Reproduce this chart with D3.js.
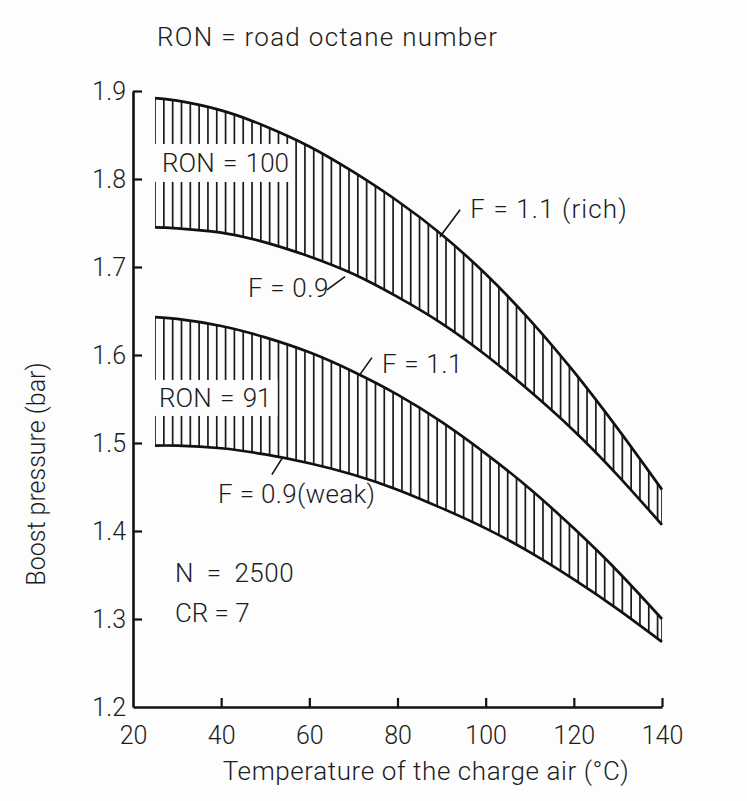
<!DOCTYPE html>
<html>
<head>
<meta charset="utf-8">
<script src="https://cdn.jsdelivr.net/npm/d3@7/dist/d3.min.js"></script>
<style>
  html, body { margin: 0; padding: 0; background: #fdfdfd; }
  svg text { font-family: Roboto, "DejaVu Sans", sans-serif; font-weight: 300; fill: #1c1c1c; }
</style>
</head>
<body>
<svg id="chart" width="747" height="801"></svg>
<script>
// Charge-air temperature (°C) at which the boundary curves are sampled
const temperature = [25, 30, 40, 50, 60, 70, 80, 90, 100, 110, 120, 130, 140];

// Boost pressure limits (bar), RON 100 fuel
const ron100Rich = [1.892, 1.889, 1.878, 1.860, 1.837, 1.808, 1.775, 1.737, 1.692, 1.640, 1.581, 1.516, 1.447]; // F = 1.1
const ron100Weak = [1.745, 1.744, 1.739, 1.728, 1.712, 1.692, 1.666, 1.636, 1.600, 1.559, 1.514, 1.463, 1.407]; // F = 0.9

// Boost pressure limits (bar), RON 91 fuel
const ron91Rich = [1.643, 1.641, 1.633, 1.620, 1.603, 1.581, 1.555, 1.524, 1.488, 1.448, 1.403, 1.354, 1.300]; // F = 1.1
const ron91Weak = [1.497, 1.497, 1.494, 1.487, 1.477, 1.464, 1.447, 1.426, 1.403, 1.376, 1.345, 1.311, 1.274]; // F = 0.9

// Axis ticks
const xTicks = [20, 40, 60, 80, 100, 120, 140];
const yTicks = [1.2, 1.3, 1.4, 1.5, 1.6, 1.7, 1.8, 1.9];

// Hatch spacing along the temperature axis (°C)
const hatchStep = 2;

const svg = d3.select("#chart");

const x = d3.scaleLinear().domain([20, 140]).range([133, 662]);
const y = d3.scaleLinear().domain([1.2, 1.9]).range([707, 91]);

// ---- Axes ----
const xAxis = d3.axisBottom(x)
  .tickValues(xTicks)
  .tickSizeInner(-9)
  .tickSizeOuter(0)
  .tickPadding(19)
  .tickFormat(d3.format("d"));

const yAxis = d3.axisLeft(y)
  .tickValues(yTicks)
  .tickSizeInner(-9)
  .tickSizeOuter(0)
  .tickPadding(7)
  .tickFormat(d3.format(".1f"));

const gx = svg.append("g").attr("transform", `translate(0,${y(1.2)})`).call(xAxis);
const gy = svg.append("g").attr("transform", `translate(${x(20)},0)`).call(yAxis);

[gx, gy].forEach(g => {
  g.select(".domain").attr("stroke", "#111").attr("stroke-width", 2.6);
  g.selectAll(".tick line").attr("stroke", "#111").attr("stroke-width", 2.2);
  g.selectAll(".tick text")
    .attr("font-family", null).attr("font-size", null)
    .style("font-size", "25px");
});
gx.selectAll(".tick").filter(d => d === 20).select("line").remove();
gy.selectAll(".tick").filter(d => d === 1.2).select("line").remove();

// ---- Bands ----
const bands = [
  { id: "ron100", upper: ron100Rich, lower: ron100Weak },
  { id: "ron91", upper: ron91Rich, lower: ron91Weak }
];

const curve = d3.curveNatural;
const area = d3.area()
  .x((d, i) => x(temperature[i]))
  .y0(d => y(d[1]))
  .y1(d => y(d[0]))
  .curve(curve);
const line = d3.line()
  .x((d, i) => x(temperature[i]))
  .y(d => y(d))
  .curve(curve);

const defs = svg.append("defs");
const hatchTemps = d3.range(temperature[0], temperature[temperature.length - 1] + 0.001, hatchStep);
if (hatchTemps[hatchTemps.length - 1] < 140) hatchTemps.push(140);

const bandLayer = svg.append("g");
bands.forEach(b => {
  const pairs = b.upper.map((u, i) => [u, b.lower[i]]);
  defs.append("clipPath").attr("id", "clip-" + b.id)
    .append("path").attr("d", area(pairs));

  bandLayer.append("g")
    .attr("clip-path", `url(#clip-${b.id})`)
    .selectAll("line")
    .data(hatchTemps)
    .join("line")
    .attr("x1", d => x(d)).attr("x2", d => x(d))
    .attr("y1", y(1.95)).attr("y2", y(1.2))
    .attr("stroke", "#1a1a1a")
    .attr("stroke-width", 1.7);
});

// ---- Band labels with a cleared background ----
function bandLabel(text, t, p, padL, padR, padY) {
  const g = svg.append("g");
  const rect = g.append("rect").attr("fill", "#fdfdfd");
  const txt = g.append("text").attr("x", x(t)).attr("y", y(p))
    .style("font-size", "26px").style("word-spacing", "2px").text(text);
  const bb = txt.node().getBBox();
  rect.attr("x", bb.x - padL).attr("y", bb.y - padY)
    .attr("width", bb.width + padL + padR).attr("height", bb.height + 2 * padY);
}
bandLabel("RON = 100", 26.6, 1.808, 13, 4, 4);
bandLabel("RON = 91", 25.9, 1.541, 10, 6, 3);

// ---- Boundary curves ----
const curveLayer = svg.append("g");
[ron100Rich, ron100Weak, ron91Rich, ron91Weak].forEach(s => {
  curveLayer.append("path")
    .attr("d", line(s))
    .attr("fill", "none")
    .attr("stroke", "#111")
    .attr("stroke-width", 2.7);
});

// ---- Annotations: mixture-strength labels with leader lines ----
const annotations = [
  { text: "F = 1.1 (rich)", tx: 96.5, ty: 1.756, from: [89.6, 1.734], to: [94.2, 1.765], ls: 1.1 },
  { text: "F = 0.9", tx: 46.1, ty: 1.666, from: [68.1, 1.689], to: [64.0, 1.674], ls: 0.6 },
  { text: "F = 1.1", tx: 76.5, ty: 1.580, from: [71.5, 1.578], to: [74.2, 1.597], ls: 0.6 },
  { text: "F = 0.9(weak)", tx: 39.3, ty: 1.432, from: [54.0, 1.484], to: [51.5, 1.464], ls: 0.3 }
];
const ann = svg.append("g");
annotations.forEach(a => {
  ann.append("line")
    .attr("x1", x(a.from[0])).attr("y1", y(a.from[1]))
    .attr("x2", x(a.to[0])).attr("y2", y(a.to[1]))
    .attr("stroke", "#111").attr("stroke-width", 1.6);
  ann.append("text").attr("x", x(a.tx)).attr("y", y(a.ty))
    .style("font-size", "26px").style("letter-spacing", a.ls + "px").text(a.text);
});

// ---- Operating conditions ----
ann.append("text").attr("x", x(29.5)).attr("y", y(1.342)).style("font-size", "26px")
  .style("word-spacing", "6px").style("letter-spacing", "0.5px").text("N = 2500");
ann.append("text").attr("x", x(29.5)).attr("y", y(1.297)).style("font-size", "26px")
  .text("CR = 7");

// ---- Titles ----
svg.append("text").attr("x", 157).attr("y", 46).style("font-size", "26px")
  .style("letter-spacing", "1.3px")
  .text("RON = road octane number");

svg.append("text")
  .attr("x", 426).attr("y", 780)
  .attr("text-anchor", "middle").style("font-size", "26px").style("letter-spacing", "0.6px")
  .text("Temperature of the charge air (°C)");

svg.append("text")
  .attr("transform", `translate(45,${(y(1.2) + y(1.9)) / 2 + 75}) rotate(-90)`)
  .attr("text-anchor", "middle").style("font-size", "25px")
  .text("Boost pressure (bar)");
</script>
</body>
</html>
